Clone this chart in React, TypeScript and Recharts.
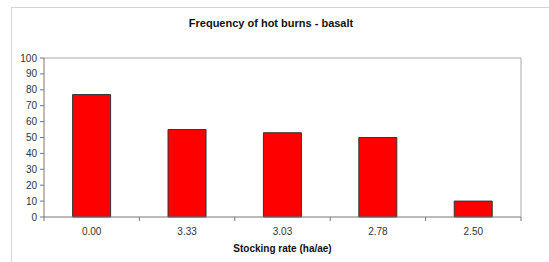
import React from 'react';
import { BarChart, Bar, XAxis, YAxis, ReferenceLine } from 'recharts';

const stockingRates = ['0.00', '3.33', '3.03', '2.78', '2.50'];
const hotBurnFrequency = [77, 55, 53, 50, 10];
const yTicks = [0, 10, 20, 30, 40, 50, 60, 70, 80, 90, 100];

const data = stockingRates.map((rate, i) => ({ rate, value: hotBurnFrequency[i] }));

const FONT = '"Liberation Sans", Arial, sans-serif';

// category label in the middle, small tick marks on the category edges (Excel style)
const XTick = (props: any) => {
    const { x, y, payload, index, width, visibleTicksCount } = props;
    const band = width && visibleTicksCount ? width / visibleTicksCount : 95.6;
    const left = x - band / 2;
    const right = x + band / 2;
    return (
        <g>
            <line x1={left} y1={y} x2={left} y2={y + 4} stroke="#777" />
            {index === visibleTicksCount - 1 && <line x1={right} y1={y} x2={right} y2={y + 4} stroke="#777" />}
            <text x={x} y={y + 18} textAnchor="middle" fontSize={10} fill="#333" fontFamily={FONT}>
                {payload.value}
            </text>
        </g>
    );
};

const App: React.FC = () => {
    return (
        <div style={{ position: 'fixed', left: 0, top: 0, width: 549, height: 262, background: '#fff', fontFamily: FONT }}>
            <div style={{ position: 'absolute', left: 11, top: 7, width: 560, height: 270, border: '1px solid #d4d4d4' }} />
            <div style={{ position: 'absolute', left: 0, width: 542, top: 17, textAlign: 'center', fontSize: 11, fontWeight: 'bold', color: '#111' }}>
                Frequency of hot burns - basalt
            </div>
            <div style={{ position: 'absolute', left: 0, width: 565, top: 243, textAlign: 'center', fontSize: 10, fontWeight: 'bold', color: '#111' }}>
                Stocking rate (ha/ae)
            </div>
            <div style={{ position: 'absolute', left: 0, top: 0 }}>
                <BarChart width={549} height={262} data={data} margin={{ top: 58, right: 27, left: 0, bottom: 0 }} barCategoryGap="30%">
                    <XAxis
                        dataKey="rate"
                        height={45}
                        tickLine={false}
                        tickSize={0}
                        tickMargin={0}
                        axisLine={{ stroke: '#777' }}
                        tick={<XTick />}
                        interval={0}
                    />
                    <YAxis
                        width={44}
                        domain={[0, 100]}
                        ticks={yTicks}
                        interval={0}
                        tickSize={4}
                        tickMargin={3}
                        axisLine={{ stroke: '#777' }}
                        tickLine={{ stroke: '#777' }}
                        tick={{ fontSize: 10, fill: '#333', fontFamily: FONT }}
                    />
                    <YAxis
                        yAxisId="frame"
                        orientation="right"
                        width={1}
                        domain={[0, 100]}
                        tick={false}
                        tickLine={false}
                        axisLine={{ stroke: '#aaa' }}
                    />
                    <ReferenceLine y={100} stroke="#aaa" />
                    <Bar dataKey="value" fill="#ff0000" stroke="#333" strokeWidth={1} isAnimationActive={false} />
                </BarChart>
            </div>
        </div>
    );
};

export default App;
